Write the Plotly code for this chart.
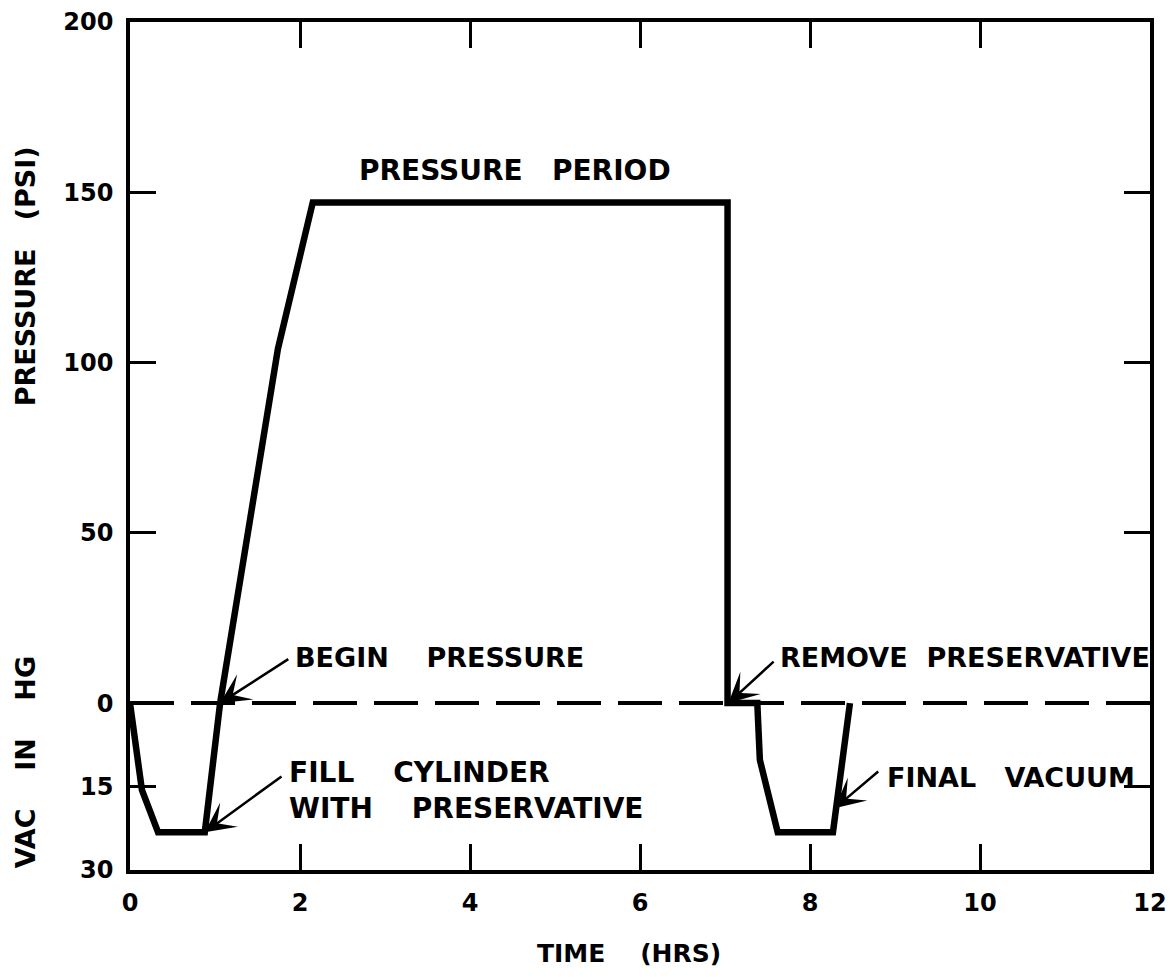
import plotly.graph_objects as go

# ---- data (hours, gauge reading: psi when >= 0, vacuum in inHg when < 0) ----
time_hrs = [0, 0.14, 0.33, 0.88, 1.06, 1.74, 2.15, 7.03, 7.03, 7.38, 7.41, 7.62, 8.27, 8.47]
gauge = [0, -15.6, -23.2, -23.2, 0, 104, 147, 147, 0, 0, -10.2, -23.2, -23.2, 0]

x_ticks = [0, 2, 4, 6, 8, 10, 12]
x_ticklabels = ["0", "2", "4", "6", "8", "10", "12"]
psi_ticks = [200, 150, 100, 50, 0]
vac_ticks = [15, 30]

# vacuum region: 30 inHg spans the same height as ~49 psi on this chart
VAC_TO_PSI = 49.0 / 30.0


def to_plot_y(v):
    return v if v >= 0 else v * VAC_TO_PSI


y_plot = [to_plot_y(v) for v in gauge]
y_tickvals = psi_ticks + [-v * VAC_TO_PSI for v in vac_ticks]
y_ticktext = [str(v) for v in psi_ticks] + [str(v) for v in vac_ticks]

FONT = "DejaVu Sans"
fig = go.Figure()

# dashed zero line
fig.add_trace(go.Scatter(x=[0, 12], y=[0, 0], mode="lines",
                         line=dict(color="black", width=4, dash="44px,17px"),
                         hoverinfo="skip"))
# main curve
fig.add_trace(go.Scatter(x=time_hrs, y=y_plot, mode="lines",
                         line=dict(color="black", width=6.5),
                         hoverinfo="skip"))

axis_common = dict(showline=True, linewidth=3.5, linecolor="black", mirror="ticks",
                   ticks="inside", ticklen=26, tickwidth=3, tickcolor="black",
                   showgrid=False, zeroline=False, automargin=False,
                   ticklabeloverflow="allow",
                   tickfont=dict(family=FONT, size=24, color="black", weight="bold"))

fig.update_xaxes(range=[0, 12], tickvals=x_ticks, ticktext=x_ticklabels,
                 ticklabelstandoff=8, **axis_common)
fig.update_yaxes(range=[-49, 200], tickvals=y_tickvals, ticktext=y_ticktext,
                 ticklabelstandoff=8, **axis_common)


def sp(n):
    return "\u00a0" * n


texts = [
    dict(x=4.53, y=156.5, text="PRESSURE" + sp(3) + "PERIOD", xanchor="center", size=28),
    dict(x=1.92, y=13.5, text="BEGIN" + sp(4) + "PRESSURE", xanchor="left", size=27),
    dict(x=1.85, y=-25.6, text="FILL" + sp(4) + "CYLINDER<br>WITH" + sp(4) + "PRESERVATIVE",
         xanchor="left", size=28),
    dict(x=7.62, y=13.5, text="REMOVE" + sp(2) + "PRESERVATIVE", xanchor="left", size=27),
    dict(x=8.88, y=-21.8, text="FINAL" + sp(3) + "VACUUM", xanchor="left", size=27),
]
for t in texts:
    fig.add_annotation(x=t["x"], y=t["y"], text=t["text"], xanchor=t["xanchor"],
                       yanchor="middle", align="left", showarrow=False,
                       font=dict(family=FONT, size=t["size"], color="black", weight="bold"))

arrows = [
    ((1.06, 0), (1.88, 13.2)),
    ((0.88, -37.9), (1.80, -21.2)),
    ((7.04, 0), (7.59, 12.6)),
    ((8.29, -30.9), (8.82, -19.7)),
]
for (hx, hy), (tx, ty) in arrows:
    fig.add_annotation(x=hx, y=hy, ax=tx, ay=ty, axref="x", ayref="y", text="",
                       showarrow=True, arrowhead=3, arrowsize=2.0, arrowwidth=2.5,
                       arrowcolor="black")

title_font = dict(family=FONT, size=27, color="black", weight="bold")
fig.add_annotation(xref="paper", yref="paper", x=-0.103, y=0.70,
                   text="PRESSURE" + sp(3) + "(PSI)", textangle=-90, showarrow=False,
                   font=title_font, xanchor="center", yanchor="middle")
fig.add_annotation(xref="paper", yref="paper", x=-0.103, y=0.127,
                   text="VAC" + sp(4) + "IN" + sp(4) + "HG", textangle=-90, showarrow=False,
                   font=title_font, xanchor="center", yanchor="middle")
fig.add_annotation(xref="paper", yref="paper", x=0.489, y=-0.098,
                   text="TIME" + sp(4) + "(HRS)", showarrow=False,
                   font=dict(family=FONT, size=25, color="black", weight="bold"),
                   xanchor="center", yanchor="middle")

fig.update_layout(width=1170, height=977, margin=dict(l=130, r=20, t=22, b=107),
                  plot_bgcolor="white", paper_bgcolor="white", showlegend=False)

# remove the default page margin so the figure fills the window exactly
fig.write_html("out.html", config={"displayModeBar": False},
               post_script="document.body.style.margin='0px';")
